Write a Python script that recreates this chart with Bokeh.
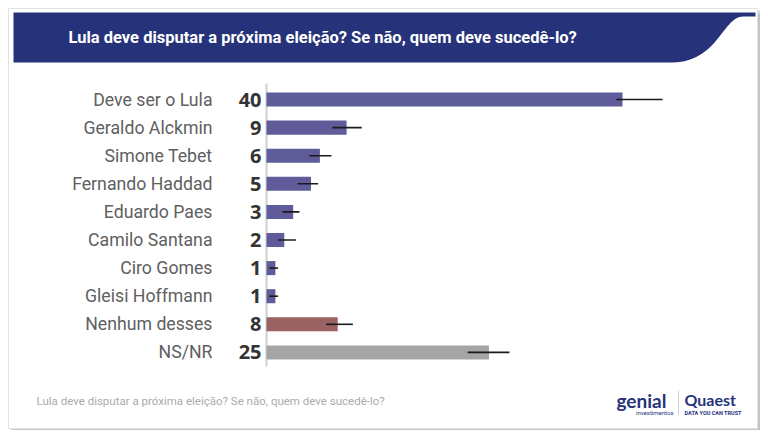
import numpy as np
from bokeh.plotting import figure
from bokeh.models import Range1d, Label
from bokeh.embed import file_html
from bokeh.resources import INLINE
from bokeh.core.properties import value

# ---- data ----
categories = ["Deve ser o Lula", "Geraldo Alckmin", "Simone Tebet", "Fernando Haddad",
              "Eduardo Paes", "Camilo Santana", "Ciro Gomes", "Gleisi Hoffmann",
              "Nenhum desses", "NS/NR"]
values = [40, 9, 6, 5, 3, 2, 1, 1, 8, 25]
err_low = [39.3, 7.4, 4.8, 3.5, 1.8, 1.3, 0.3, 0.3, 6.7, 22.6]
err_high = [44.5, 10.7, 7.3, 5.8, 3.7, 3.3, 1.3, 1.3, 9.7, 27.3]
group = ["nome"] * 8 + ["nenhum", "nsnr"]
title = "Lula deve disputar a próxima eleição? Se não, quem deve sucedê-lo?"

palette = {"nome": "#5f5c99", "nenhum": "#9a6261", "nsnr": "#a5a5a5"}

# ---- geometry ----
W, H = 760, 430
X0, SX = 266.0, 8.9      # frame px of zero, px per unit
Y0, SY = 99.0, 28.1      # frame px of first row, px per row

def fx(px):
    return (px - X0) / SX

def fy(py):
    return (py - Y0) / SY

p = figure(width=W, height=H, output_backend="svg", toolbar_location=None,
           x_range=Range1d(-X0 / SX, (W - X0) / SX),
           y_range=Range1d((H - Y0) / SY, -Y0 / SY),
           min_border=0, x_axis_location=None, y_axis_location=None)
p.grid.visible = False
p.outline_line_color = None
p.background_fill_color = "white"
p.border_fill_color = "white"

# card + shadow
p.quad(left=fx(12), right=fx(762), top=fy(13), bottom=fy(432), fill_color="#000000",
       fill_alpha=0.10, line_color=None)
p.quad(left=fx(10), right=fx(760), top=fy(10), bottom=fy(430), fill_color="#000000",
       fill_alpha=0.14, line_color=None)
p.quad(left=fx(8), right=fx(757), top=fy(8), bottom=fy(428), fill_color="white",
       line_color="#e2e2e2", line_width=1)

# header band with wave
t = np.linspace(0, 1, 30)
P0, P1, P2, P3 = np.array([743, 16]), np.array([722, 16]), np.array([718, 61]), np.array([672, 62])
bez = ((1 - t) ** 3)[:, None] * P0 + (3 * (1 - t) ** 2 * t)[:, None] * P1 + \
      (3 * (1 - t) * t ** 2)[:, None] * P2 + (t ** 3)[:, None] * P3
hx = [13, 755, 755] + list(bez[:, 0]) + [13]
hy = [12, 12, 16] + list(bez[:, 1]) + [62]
p.patch([fx(v) for v in hx], [fy(v) for v in hy], fill_color="#26337a", line_color=None)

p.add_layout(Label(x=fx(68), y=fy(37), text=title, text_color="white",
                   text_font="Roboto", text_font_size="16.5px", text_font_style="bold",
                   text_baseline="middle"))

idx = list(range(len(categories)))
colors = [palette[g] for g in group]

# axis line
p.segment(x0=0, x1=0, y0=fy(83), y1=fy(366), line_color="#cfcfcf", line_width=2)

p.hbar(y=idx, left=0, right=values, height=0.5, fill_color=colors, line_color=None)
p.segment(x0=err_low, x1=err_high, y0=idx, y1=idx, line_color="#1a1a1a", line_width=1.6)

p.text(x=[0] * len(idx), y=idx, text=categories, x_offset=-54, text_align="right",
       text_baseline="middle", text_font=value("Roboto"), text_font_size="17.7px",
       text_color="#606060")
p.text(x=[0] * len(idx), y=idx, text=[str(v) for v in values], x_offset=-5,
       text_align="right", text_baseline="middle", text_font=value("Open Sans"),
       text_font_size="20px", text_font_style="bold", text_color="#333333")

# footer
p.add_layout(Label(x=fx(36), y=fy(400), text=title, text_color="#ababab",
                   text_font="Roboto", text_font_size="11.5px", text_baseline="middle"))
p.add_layout(Label(x=fx(616), y=fy(400), text="genial", text_color="#26337a",
                   text_font="Lato", text_font_size="19px", text_font_style="bold",
                   text_baseline="middle"))
p.add_layout(Label(x=fx(673), y=fy(412), text="investimentos", text_color="#26337a",
                   text_font="Roboto", text_font_size="6px", text_align="right",
                   text_baseline="middle"))
p.segment(x0=fx(678), x1=fx(678), y0=fy(390), y1=fy(414), line_color="#d0d0d0", line_width=1)
p.add_layout(Label(x=fx(684), y=fy(399), text="Quaest", text_color="#26337a",
                   text_font="Lato", text_font_size="16px", text_font_style="bold",
                   text_baseline="middle"))
p.add_layout(Label(x=fx(684), y=fy(412), text="DATA YOU CAN TRUST", text_color="#26337a",
                   text_font="Roboto", text_font_size="5.5px", text_font_style="bold",
                   text_baseline="middle"))

open("out.html", "w").write(file_html(p, INLINE))
